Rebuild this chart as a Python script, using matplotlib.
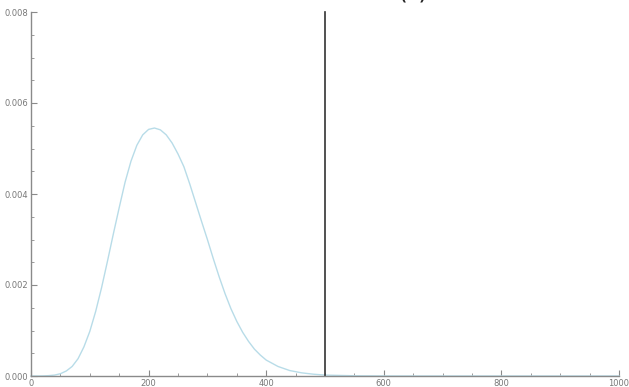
import numpy as np
import matplotlib
matplotlib.use('Agg')
import matplotlib.pyplot as plt
from matplotlib.ticker import MultipleLocator, FormatStrFormatter

# curve values
x_vals = [0, 10, 20, 30, 40, 50, 60, 70, 80, 90, 100, 110, 120, 130, 140,
          150, 160, 170, 180, 190, 200, 210, 220, 230, 240, 250, 260, 270,
          280, 290, 300, 310, 320, 330, 340, 350, 360, 370, 380, 390, 400,
          420, 440, 460, 480, 500, 550, 600, 700, 800, 900, 1000]
y_vals = [0, 0, 0.000002, 0.000008, 0.00002, 0.00005, 0.00011, 0.00021,
          0.00038, 0.00064, 0.00098, 0.00142, 0.00194, 0.00252, 0.00312,
          0.00370, 0.00426, 0.00472, 0.00507, 0.00530, 0.00542, 0.00545,
          0.00541, 0.00530, 0.00512, 0.00488, 0.00460, 0.00422, 0.00381,
          0.00340, 0.00300, 0.00258, 0.00218, 0.00181, 0.00148, 0.00120,
          0.00096, 0.00076, 0.00059, 0.00046, 0.00035, 0.00021, 0.00012,
          0.00007, 0.00004, 0.00002, 0.000005, 0.000001, 0, 0, 0, 0]
cut_x = 500
x_ticks = [0, 200, 400, 600, 800, 1000]
y_ticks = [0.000, 0.002, 0.004, 0.006, 0.008]

fig = plt.figure(figsize=(6.29, 3.87), dpi=100)
ax = fig.add_axes([31/629, 11/387, 588/629, 364/387])

ax.plot(x_vals, y_vals, color='#b8dce8', lw=1.0, clip_on=False)
ax.plot([cut_x, cut_x], [0, 0.008], color='#333333', lw=1.2, clip_on=False)

ax.set_xlim(0, 1000)
ax.set_ylim(0, 0.008)
ax.set_xticks(x_ticks)
ax.set_yticks(y_ticks)
ax.xaxis.set_minor_locator(MultipleLocator(50))
ax.yaxis.set_minor_locator(MultipleLocator(0.0005))
ax.yaxis.set_major_formatter(FormatStrFormatter('%.3f'))
ax.xaxis.set_major_formatter(FormatStrFormatter('%d'))

for s in ['top', 'right']:
    ax.spines[s].set_visible(False)
for s in ['left', 'bottom']:
    ax.spines[s].set_color('#8a8a8a')
    ax.spines[s].set_linewidth(1.0)

ax.tick_params(which='major', direction='in', length=4, width=0.8,
               color='#8a8a8a', labelsize=6, labelcolor='#777777', pad=2)
ax.tick_params(which='minor', direction='in', length=2, width=0.6,
               color='#8a8a8a')

# title sits above the canvas, only the bottom of the brackets shows
fig.text(0.645, 1.0 + 1/387, 'P(r)', fontsize=18, ha='center',
         va='baseline', color='#222222')

fig.savefig('out.png', dpi=100)
